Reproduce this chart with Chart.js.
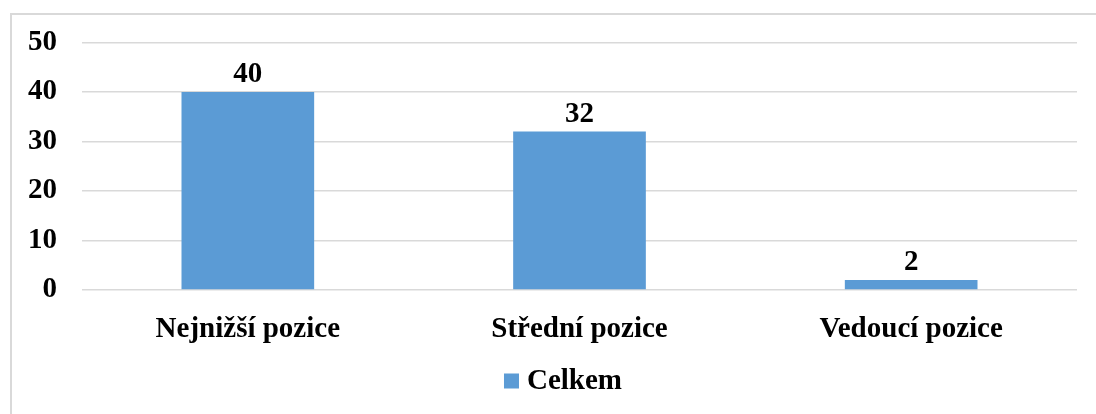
<!DOCTYPE html>
<html>
<head>
<meta charset="utf-8">
<script src="https://cdn.jsdelivr.net/npm/chart.js@4.4.1/dist/chart.umd.min.js"></script>
<style>
  html, body { margin: 0; padding: 0; background: #ffffff; }
  #wrap { position: relative; width: 1096px; height: 414px; overflow: hidden; background: #fff; }
  #frame { position: absolute; left: 10px; top: 13px; width: 1200px; height: 500px;
           border-top: 2px solid #d9d9d9; border-left: 2px solid #d9d9d9; box-sizing: border-box; }
  canvas { position: absolute; left: 0; top: 0; }
</style>
</head>
<body>
<div id="wrap">
  <div id="frame"></div>
  <canvas id="c" width="1096" height="414"></canvas>
</div>
<script>
const categories = ["Nejnižší pozice", "Střední pozice", "Vedoucí pozice"];
const seriesName = "Celkem";
const values = [40, 32, 2];
const yTicks = [0, 10, 20, 30, 40, 50];

const FONT_FAMILY = '"Liberation Serif", "Times New Roman", serif';
const BAR_COLOR = '#5b9bd5';
const GRID = '#d9d9d9';

const dataLabels = {
  id: 'dataLabels',
  afterDatasetsDraw(chart) {
    const ctx = chart.ctx;
    ctx.save();
    ctx.font = 'bold 29px ' + FONT_FAMILY;
    ctx.fillStyle = '#000';
    ctx.textAlign = 'center';
    ctx.textBaseline = 'alphabetic';
    chart.data.datasets.forEach((ds, di) => {
      chart.getDatasetMeta(di).data.forEach((bar, i) => {
        ctx.fillText(String(ds.data[i]), bar.x, bar.y - 10);
      });
    });
    ctx.restore();
  }
};

const customLegend = {
  id: 'customLegend',
  afterDraw(chart) {
    const ctx = chart.ctx;
    const ds = chart.data.datasets[0];
    ctx.save();
    ctx.font = 'bold 29px ' + FONT_FAMILY;
    const tw = ctx.measureText(ds.label).width;
    const box = 15, gap = 8;
    const total = box + gap + tw;
    const cx = 563;
    const cy = 381;
    const x0 = cx - total / 2;
    ctx.fillStyle = ds.backgroundColor;
    ctx.fillRect(x0, cy - box / 2, box, box);
    ctx.fillStyle = '#000';
    ctx.textAlign = 'left';
    ctx.textBaseline = 'middle';
    ctx.fillText(ds.label, x0 + box + gap, cy + 1);
    ctx.restore();
  }
};

new Chart(document.getElementById('c'), {
  type: 'bar',
  data: {
    labels: categories,
    datasets: [{
      label: seriesName,
      data: values,
      backgroundColor: BAR_COLOR,
      borderWidth: 0,
      categoryPercentage: 1.0,
      barPercentage: 0.4
    }]
  },
  options: {
    responsive: false,
    animation: false,
    devicePixelRatio: 1,
    layout: { padding: { left: 0, top: 42, right: 19, bottom: 0 } },
    plugins: {
      legend: { display: false },
      tooltip: { enabled: false }
    },
    scales: {
      x: {
        grid: { display: false, drawTicks: false },
        border: { display: false },
        ticks: {
          color: '#000',
          font: { family: FONT_FAMILY, size: 29, weight: 'bold' },
          padding: 22,
          maxRotation: 0, autoSkip: false
        },
        afterFit(scale) { scale.height = 124; }
      },
      y: {
        min: 0, max: 50,
        afterBuildTicks(scale) { scale.ticks = yTicks.map(v => ({ value: v })); },
        grid: { color: GRID, lineWidth: 1.5, drawTicks: false },
        border: { display: false },
        ticks: {
          color: '#000',
          font: { family: FONT_FAMILY, size: 29, weight: 'bold' },
          padding: 25
        },
        afterFit(scale) { scale.width = 82; }
      }
    }
  },
  plugins: [dataLabels, customLegend]
});
</script>
</body>
</html>
